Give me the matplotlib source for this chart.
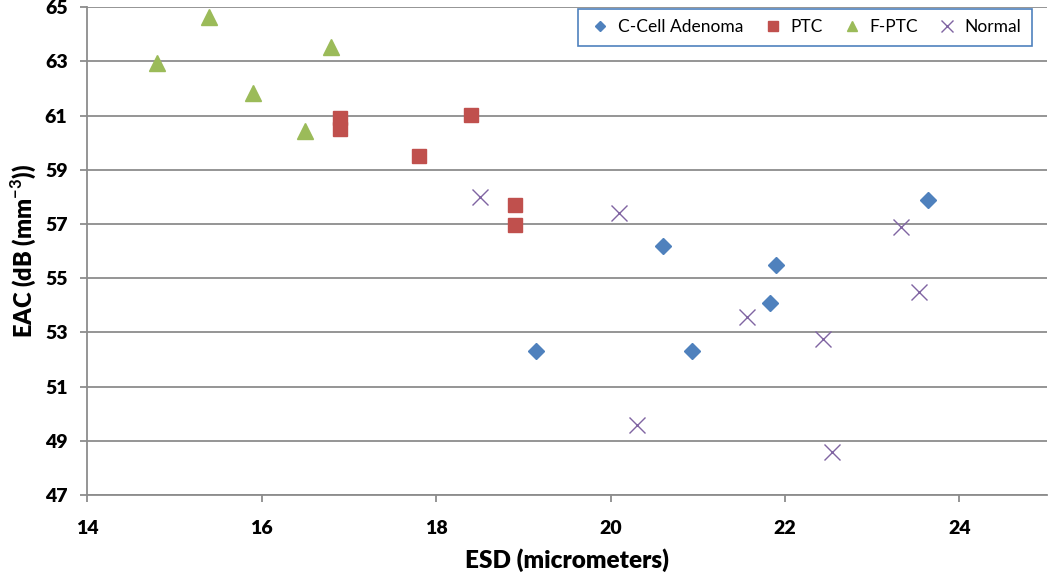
import matplotlib.pyplot as plt
from matplotlib.ticker import FixedLocator

# data
adenoma_x = [19.15, 20.6, 20.93, 21.83, 21.9, 23.64]
adenoma_y = [52.3, 56.2, 52.3, 54.1, 55.5, 57.9]
ptc_x = [16.9, 16.9, 17.8, 18.4, 18.9, 18.9]
ptc_y = [60.92, 60.5, 59.52, 61.03, 57.7, 56.95]
fptc_x = [14.8, 15.4, 15.9, 16.5, 16.8]
fptc_y = [62.95, 64.63, 61.85, 60.45, 63.55]
normal_x = [18.5, 20.1, 20.3, 21.57, 22.43, 22.54, 23.33, 23.54]
normal_y = [58.0, 57.4, 49.6, 53.58, 52.77, 48.58, 56.9, 54.48]
xticks = [14, 16, 18, 20, 22, 24]
yticks = [47, 49, 51, 53, 55, 57, 59, 61, 63, 65]

plt.rcParams['font.family'] = ['Lato', 'DejaVu Sans']
plt.rcParams['font.weight'] = 'heavy'
plt.rcParams['mathtext.fontset'] = 'custom'
plt.rcParams['mathtext.bf'] = 'Lato:bold'
plt.rcParams['mathtext.rm'] = 'Lato:bold'

fig = plt.figure(figsize=(10.5, 5.74), dpi=100)
ax = fig.add_axes([0.0829, 0.1376, 0.914, 0.8497])

ax.plot(adenoma_x, adenoma_y, ls='none', marker='D', ms=8, color='#4F81BD', label='C-Cell Adenoma')
ax.plot(ptc_x, ptc_y, ls='none', marker='s', ms=10, color='#C0504D', label='PTC')
ax.plot(fptc_x, fptc_y, ls='none', marker='^', ms=11, color='#9BBB59', label='F-PTC')
ax.plot(normal_x, normal_y, ls='none', marker='x', ms=12, mew=1.0, color='#8064A2', label='Normal')

ax.set_xlim(14, 25)
ax.set_ylim(47, 65)
ax.xaxis.set_major_locator(FixedLocator(xticks))
ax.yaxis.set_major_locator(FixedLocator(yticks))
ax.yaxis.grid(True, color='#8C8C8C', lw=1.3)
ax.set_axisbelow(True)
for s in ['top', 'right']:
    ax.spines[s].set_visible(False)
for s in ['left', 'bottom']:
    ax.spines[s].set_color('#8C8C8C')
    ax.spines[s].set_linewidth(1.3)
ax.tick_params(axis='both', length=5, width=1.3, color='#8C8C8C', labelsize=14)
ax.tick_params(axis='y', pad=9)
ax.tick_params(axis='x', pad=13)

ax.set_xlabel('ESD (micrometers)', fontsize=17.5, fontweight='heavy', labelpad=8)
ax.set_ylabel('EAC (dB (mm$^{\\mathbf{-3}}$))', fontsize=17, fontweight='heavy', labelpad=5)

leg = ax.legend(ncol=4, loc='upper right', bbox_to_anchor=(1032 / 1050, 1 - 9 / 574),
                bbox_transform=fig.transFigure, borderaxespad=0, fancybox=False,
                framealpha=1, edgecolor='#4F81BD', handletextpad=0.3, markerscale=0.7,
                columnspacing=1.0, borderpad=0.6, handlelength=1.4,
                prop={'family': ['Lato', 'DejaVu Sans'], 'size': 12.5, 'weight': 'normal'})
leg.get_frame().set_linewidth(1.2)

fig.savefig('out.png', dpi=100)
